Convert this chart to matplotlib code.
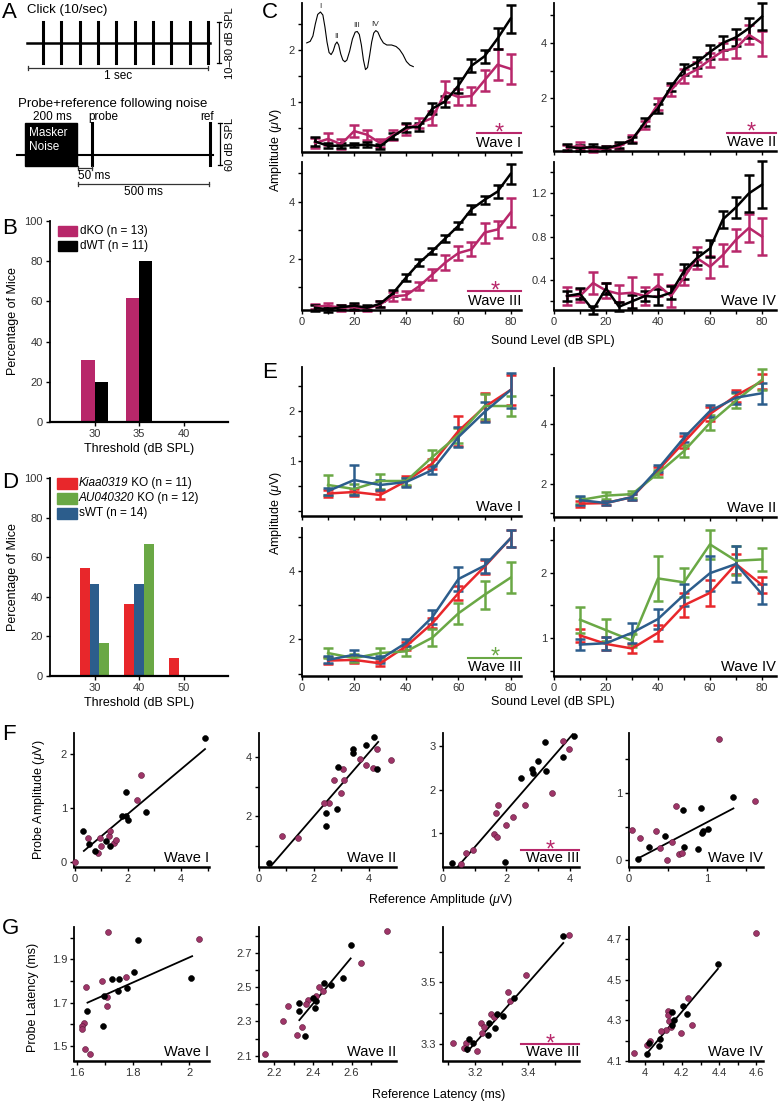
import numpy as np
import matplotlib
matplotlib.use('Agg')
import matplotlib.pyplot as plt
from matplotlib.patches import Rectangle
from matplotlib.transforms import offset_copy

plt.rcParams['font.family'] = ['Liberation Sans', 'DejaVu Sans']
plt.rcParams['mathtext.fontset'] = 'custom'
plt.rcParams['mathtext.rm'] = 'Liberation Sans'
plt.rcParams['mathtext.it'] = 'Liberation Sans:italic'

MAG = '#b8276a'
RED = '#e8272b'
GRN = '#6aa845'
BLU = '#2c5d8c'
DOT = '#9e3568'

# ---------------- data ----------------
# B: threshold distribution (double KO vs WT)
b_thresh = [30, 35, 40]
b_dko = [30.8, 61.5, 0]
b_dwt = [20, 80, 0]

# D: threshold distribution (single KOs vs WT)
d_thresh = [30, 40, 50]
d_kiaa = [54.5, 36.4, 9.1]
d_blue = [46.7, 46.7, 0]
d_au = [16.7, 66.7, 0]

# C: ABR amplitude growth, dKO (magenta) vs dWT (black)
c_lev = [5, 10, 15, 20, 25, 30, 35, 40, 45, 50, 55, 60, 65, 70, 75, 80]
c1_ko = [0.22, 0.3, 0.2, 0.45, 0.38, 0.22, 0.38, 0.48, 0.6, 0.7, 1.2, 1.1, 1.12, 1.42, 1.72, 1.64]
c1_ko_e = [0.1, 0.12, 0.1, 0.12, 0.1, 0.08, 0.1, 0.1, 0.1, 0.13, 0.2, 0.15, 0.17, 0.2, 0.3, 0.28]
c1_wt = [0.25, 0.17, 0.17, 0.18, 0.19, 0.16, 0.35, 0.52, 0.53, 0.88, 1.02, 1.32, 1.7, 1.88, 2.22, 2.6]
c1_wt_e = [0.08, 0.05, 0.05, 0.04, 0.05, 0.05, 0.06, 0.08, 0.07, 0.1, 0.1, 0.15, 0.12, 0.12, 0.2, 0.27]
c2_ko = [0.2, 0.3, 0.15, 0.2, 0.25, 0.55, 1.05, 1.8, 2.3, 2.8, 3.05, 3.4, 3.72, 3.81, 4.3, 4.0]
c2_ko_e = [0.1, 0.12, 0.1, 0.08, 0.1, 0.12, 0.15, 0.2, 0.2, 0.25, 0.25, 0.25, 0.3, 0.35, 0.35, 0.45]
c2_wt = [0.25, 0.2, 0.25, 0.2, 0.32, 0.5, 1.15, 1.64, 2.42, 3.05, 3.3, 3.68, 4.01, 4.21, 4.54, 4.96]
c2_wt_e = [0.12, 0.1, 0.12, 0.08, 0.12, 0.12, 0.15, 0.15, 0.15, 0.2, 0.2, 0.25, 0.25, 0.3, 0.35, 0.5]
c3_ko = [0.32, 0.35, 0.28, 0.3, 0.25, 0.4, 0.68, 0.72, 1.04, 1.45, 1.87, 2.2, 2.33, 2.92, 3.03, 3.62]
c3_ko_e = [0.1, 0.1, 0.1, 0.1, 0.1, 0.1, 0.15, 0.15, 0.15, 0.2, 0.25, 0.25, 0.25, 0.35, 0.3, 0.5]
c3_wt = [0.28, 0.22, 0.3, 0.35, 0.28, 0.42, 0.8, 1.35, 1.86, 2.27, 2.72, 3.16, 3.74, 4.07, 4.36, 4.98]
c3_wt_e = [0.1, 0.08, 0.08, 0.1, 0.08, 0.1, 0.12, 0.12, 0.12, 0.12, 0.12, 0.12, 0.15, 0.15, 0.22, 0.35]
c4_ko = [0.25, 0.25, 0.37, 0.3, 0.27, 0.28, 0.25, 0.35, 0.25, 0.42, 0.6, 0.52, 0.63, 0.77, 0.88, 0.8]
c4_ko_e = [0.08, 0.06, 0.1, 0.07, 0.08, 0.15, 0.08, 0.1, 0.1, 0.07, 0.1, 0.1, 0.1, 0.1, 0.13, 0.17]
c4_wt = [0.25, 0.27, 0.12, 0.32, 0.15, 0.2, 0.25, 0.24, 0.28, 0.48, 0.6, 0.69, 0.96, 1.07, 1.2, 1.28]
c4_wt_e = [0.05, 0.05, 0.04, 0.05, 0.04, 0.06, 0.05, 0.07, 0.06, 0.07, 0.06, 0.08, 0.08, 0.1, 0.17, 0.22]

# E: ABR amplitude growth, Kiaa0319 KO (red), AU040320 KO (green), sWT (blue)
e_lev = [10, 20, 30, 40, 50, 60, 70, 80]
e1_r = [0.35, 0.38, 0.32, 0.6, 0.95, 1.6, 2.08, 2.42]
e1_r_e = [0.07, 0.07, 0.08, 0.1, 0.1, 0.3, 0.28, 0.3]
e1_g = [0.52, 0.44, 0.6, 0.6, 1.08, 1.52, 2.1, 2.1]
e1_g_e = [0.2, 0.1, 0.15, 0.07, 0.15, 0.15, 0.25, 0.2]
e1_b = [0.4, 0.62, 0.52, 0.58, 0.82, 1.48, 1.98, 2.42]
e1_b_e = [0.07, 0.3, 0.1, 0.09, 0.08, 0.2, 0.2, 0.35]
e2_r = [1.33, 1.35, 1.55, 2.45, 3.4, 4.35, 4.97, 5.45]
e2_r_e = [0.1, 0.08, 0.1, 0.12, 0.2, 0.25, 0.2, 0.25]
e2_g = [1.45, 1.6, 1.65, 2.35, 3.1, 4.05, 4.8, 5.5]
e2_g_e = [0.12, 0.12, 0.12, 0.12, 0.2, 0.25, 0.25, 0.35]
e2_b = [1.45, 1.35, 1.55, 2.5, 3.55, 4.45, 4.9, 5.05]
e2_b_e = [0.15, 0.08, 0.1, 0.12, 0.15, 0.2, 0.2, 0.35]
e3_r = [1.38, 1.4, 1.3, 1.8, 2.47, 3.35, 4.12, 4.95]
e3_r_e = [0.1, 0.1, 0.08, 0.12, 0.15, 0.2, 0.2, 0.25]
e3_g = [1.6, 1.45, 1.6, 1.65, 2.05, 2.76, 3.3, 3.8]
e3_g_e = [0.15, 0.12, 0.15, 0.15, 0.25, 0.3, 0.4, 0.45]
e3_b = [1.4, 1.55, 1.42, 1.9, 2.65, 3.76, 4.15, 4.95]
e3_b_e = [0.1, 0.15, 0.1, 0.1, 0.2, 0.35, 0.2, 0.25]
e4_r = [1.04, 0.91, 0.84, 1.08, 1.5, 1.69, 2.13, 1.81]
e4_r_e = [0.1, 0.1, 0.07, 0.12, 0.18, 0.2, 0.15, 0.12]
e4_g = [1.28, 1.12, 0.96, 1.91, 1.85, 2.43, 2.18, 2.2]
e4_g_e = [0.2, 0.17, 0.1, 0.35, 0.22, 0.22, 0.22, 0.17]
e4_b = [0.9, 0.92, 1.08, 1.29, 1.66, 1.99, 2.13, 1.67]
e4_b_e = [0.08, 0.1, 0.15, 0.15, 0.17, 0.27, 0.28, 0.15]

# F: probe vs reference amplitude (uV); black = WT, magenta = KO
f1_wt_x = [0.3, 0.55, 0.75, 1.2, 1.35, 1.8, 1.95, 2.0, 1.95, 2.7, 4.9]
f1_wt_y = [0.58, 0.33, 0.2, 0.38, 0.3, 0.85, 0.86, 0.77, 1.3, 0.93, 2.3]
f1_ko_x = [0.0, 0.5, 0.9, 0.95, 1.0, 1.3, 1.35, 1.5, 1.55, 2.35, 2.5]
f1_ko_y = [0.0, 0.45, 0.17, 0.45, 0.3, 0.48, 0.58, 0.34, 0.4, 1.15, 1.62]
f1_fit = [[0.35, 4.9], [0.2, 2.1]]
f2_wt_x = [4.2, 3.42, 3.42, 3.89, 2.89, 4.32, 2.43, 2.43, 2.86, 0.35]
f2_wt_y = [4.68, 4.27, 4.14, 4.41, 3.65, 3.58, 2.1, 1.67, 2.24, 0.45]
f2_ko_x = [3.05, 2.72, 3.09, 3.01, 3.67, 3.89, 4.16, 4.32, 4.81, 2.56, 2.37, 0.83, 1.44]
f2_ko_y = [3.6, 3.21, 3.21, 2.77, 3.92, 3.71, 3.64, 4.25, 3.89, 2.44, 2.44, 1.33, 1.27]
f2_fit = [[0.45, 4.35], [0.35, 4.5]]
f3_wt_x = [4.14, 3.24, 3.0, 2.82, 2.86, 3.26, 2.48, 3.79, 0.28, 1.95]
f3_wt_y = [3.22, 3.1, 2.65, 2.48, 2.38, 2.42, 2.27, 2.75, 0.32, 0.34]
f3_ko_x = [3.79, 3.98, 3.44, 2.59, 1.75, 1.66, 2.21, 2.0, 1.6, 1.71, 0.95, 0.72, 0.56]
f3_ko_y = [3.12, 2.94, 1.92, 1.65, 1.64, 1.45, 1.36, 1.18, 0.98, 0.91, 0.62, 0.55, 0.3]
f3_fit = [[0.47, 4.1], [0.23, 3.27]]
f4_wt_x = [1.33, 0.92, 0.69, 1.02, 0.94, 0.95, 0.46, 0.26, 0.7, 0.89, 0.11]
f4_wt_y = [0.94, 0.77, 0.74, 0.46, 0.41, 0.43, 0.36, 0.2, 0.19, 0.17, 0.02]
f4_ko_x = [1.16, 1.62, 0.6, 0.04, 0.14, 0.35, 0.55, 0.4, 0.49, 0.64, 0.68]
f4_ko_y = [1.8, 0.88, 0.8, 0.45, 0.33, 0.44, 0.27, 0.18, 0.0, 0.1, 0.11]
f4_fit = [[0.12, 1.34], [0.03, 0.77]]

# G: probe vs reference latency (ms)
g1_wt_x = [1.816, 1.803, 1.75, 1.724, 1.745, 1.78, 1.698, 1.638, 1.692, 2.005]
g1_wt_y = [1.988, 1.843, 1.81, 1.81, 1.756, 1.767, 1.73, 1.663, 1.59, 1.815]
g1_ko_x = [1.712, 2.034, 1.689, 1.775, 1.633, 1.706, 1.709, 1.624, 1.62, 1.618, 1.63, 1.647]
g1_ko_y = [2.026, 1.996, 1.8, 1.82, 1.771, 1.725, 1.684, 1.607, 1.593, 1.58, 1.484, 1.461]
g1_fit = [[1.638, 2.01], [1.7, 1.915]]
g2_wt_x = [2.595, 2.553, 2.491, 2.459, 2.398, 2.416, 2.41, 2.328, 2.328, 2.36]
g2_wt_y = [2.744, 2.552, 2.513, 2.523, 2.437, 2.417, 2.379, 2.408, 2.363, 2.215]
g2_ko_x = [2.781, 2.648, 2.433, 2.45, 2.376, 2.364, 2.272, 2.243, 2.341, 2.316, 2.152, 2.416]
g2_ko_y = [2.825, 2.642, 2.5, 2.475, 2.423, 2.404, 2.392, 2.3, 2.267, 2.223, 2.11, 2.446]
g2_fit = [[2.329, 2.595], [2.308, 2.667]]
g3_wt_x = [3.531, 3.348, 3.306, 3.281, 3.254, 3.276, 3.25, 3.179, 3.194, 3.169]
g3_wt_y = [3.652, 3.448, 3.39, 3.395, 3.368, 3.349, 3.327, 3.314, 3.303, 3.281]
g3_ko_x = [3.554, 3.391, 3.323, 3.331, 3.26, 3.271, 3.221, 3.235, 3.228, 3.166, 3.116, 3.159, 3.209]
g3_ko_y = [3.655, 3.524, 3.467, 3.44, 3.396, 3.385, 3.366, 3.355, 3.335, 3.302, 3.302, 3.284, 3.275]
g3_fit = [[3.171, 3.531], [3.273, 3.628]]
g4_wt_x = [4.393, 4.205, 4.227, 4.148, 4.155, 4.148, 4.08, 4.077, 4.023, 4.014]
g4_wt_y = [4.579, 4.369, 4.333, 4.341, 4.303, 4.279, 4.21, 4.174, 4.189, 4.133]
g4_ko_x = [4.598, 4.232, 4.127, 4.127, 4.13, 4.143, 4.112, 4.089, 4.196, 4.255, 4.03, 4.014, 3.941]
g4_ko_y = [4.731, 4.408, 4.348, 4.328, 4.295, 4.267, 4.254, 4.248, 4.238, 4.275, 4.197, 4.177, 4.141]
g4_fit = [[4.018, 4.393], [4.144, 4.554]]

# inset ABR waveform sketch (arbitrary units)
wave_x = [145, 155, 163, 170, 177, 185, 192, 198, 204, 210, 216, 222, 228, 233, 238, 244, 250, 256,
          262, 270, 278, 286, 292, 298, 304, 310, 316, 322, 328, 334, 340, 346, 352, 360, 368, 378,
          392, 405, 415, 425, 435, 445, 455]
wave_y = [133, 128, 110, 70, 38, 30, 40, 80, 130, 165, 172, 160, 138, 130, 140, 170, 190, 196,
          190, 160, 120, 97, 95, 105, 140, 190, 222, 215, 175, 130, 100, 92, 97, 118, 133, 140,
          140, 145, 155, 172, 195, 207, 212]

n_clicks = 10

# ---------------- layout helpers ----------------
W, H = 778, 1103
fig = plt.figure(figsize=(W / 100, H / 100), dpi=100)


def box(l, t, r, b):
    return [l / W, 1 - b / H, (r - l) / W, (b - t) / H]


TICKFS = 8
LABFS = 9
WAVEFS = 10.5


def style(ax, xt, xtl, yt, ytl, xminor=(), yminor=()):
    for s in ['top', 'right']:
        ax.spines[s].set_visible(False)
    ax.spines['bottom'].set_linewidth(1.8)
    ax.spines['left'].set_linewidth(1.3)
    ax.set_xticks(xt)
    ax.set_xticklabels(xtl)
    ax.set_yticks(yt)
    ax.set_yticklabels(ytl)
    ax.set_xticks(list(xminor), minor=True)
    ax.set_yticks(list(yminor), minor=True)
    ax.tick_params(which='both', direction='out', length=3, width=1,
                   labelsize=TICKFS, labelcolor='#333333', pad=2)


def wave_label(ax, txt, star=None, x0=0.78):
    ax.text(1.0, 0.015, txt, transform=ax.transAxes, ha='right', va='bottom', fontsize=WAVEFS)
    if star:
        ax.plot([x0, 1.0], [0.125, 0.125], transform=ax.transAxes, color=star, lw=1.5, clip_on=False)
        tr = offset_copy(ax.transAxes, fig=fig, x=0, y=-4.5, units='points')
        ax.text((x0 + 1) / 2, 0.125, '*', transform=tr, ha='center', va='baseline',
                fontsize=17, color=star)


# ---------------- panel B ----------------
axB = fig.add_axes(box(50, 221, 228, 422))
bx = np.array(b_thresh)
axB.bar(bx - 0.75, b_dko, width=1.5, color=MAG)
axB.bar(bx + 0.75, b_dwt, width=1.5, color='k')
axB.set_xlim(25, 45)
axB.set_ylim(0, 100)
style(axB, b_thresh, [str(t) for t in b_thresh], [0, 20, 40, 60, 80, 100],
      ['0', '20', '40', '60', '80', '100'])
axB.spines['bottom'].set_linewidth(1.6)
axB.set_xlabel('Threshold (dB SPL)', fontsize=LABFS, labelpad=3)
axB.set_ylabel('Percentage of Mice', fontsize=LABFS, labelpad=4)

# ---------------- panel D ----------------
axD = fig.add_axes(box(50, 478, 228, 676))
dx = np.array(d_thresh)
axD.bar(dx - 2.2, d_kiaa, width=2.2, color=RED)
axD.bar(dx, d_blue, width=2.2, color=BLU)
axD.bar(dx + 2.2, d_au, width=2.2, color=GRN)
axD.set_xlim(20, 60)
axD.set_ylim(0, 100)
style(axD, d_thresh, [str(t) for t in d_thresh], [0, 20, 40, 60, 80, 100],
      ['0', '20', '40', '60', '80', '100'])
axD.spines['bottom'].set_linewidth(1.6)
axD.set_xlabel('Threshold (dB SPL)', fontsize=LABFS, labelpad=3)
axD.set_ylabel('Percentage of Mice', fontsize=LABFS, labelpad=4)

# ---------------- panel C ----------------
lev_ticks = list(range(0, 90, 10))
lev_lab = ['0', '', '20', '', '40', '', '60', '', '80']


def curves(ax, x, series, cap=3.3):
    for y, e, col in series:
        ax.errorbar(x, y, yerr=e, color=col, lw=1.8, elinewidth=1.8, capsize=cap,
                    capthick=1.8, clip_on=False)


cpos = [(302, 3, 521, 152), (554, 3, 776, 151), (302, 162, 521, 310), (554, 162, 776, 310)]
cdata = [[(c1_ko, c1_ko_e, MAG), (c1_wt, c1_wt_e, 'k')],
         [(c2_ko, c2_ko_e, MAG), (c2_wt, c2_wt_e, 'k')],
         [(c3_ko, c3_ko_e, MAG), (c3_wt, c3_wt_e, 'k')],
         [(c4_ko, c4_ko_e, MAG), (c4_wt, c4_wt_e, 'k')]]
cylim = [(0.05, 2.9), (0.1, 5.45), (0.2, 5.4), (0.12, 1.49)]
cyt = [([1, 2], ['1', '2'], [0.5, 1.5, 2.5]), ([2, 4], ['2', '4'], [1, 3, 5]),
       ([2, 4], ['2', '4'], [1, 3, 5]), ([0.4, 0.8, 1.2], ['0.4', '0.8', '1.2'], [0.2, 0.6, 1.0, 1.4])]
cwave = ['Wave I', 'Wave II', 'Wave III', 'Wave IV']
cstar = [MAG, MAG, MAG, None]
cstar_x0 = [0.8, 0.78, 0.76, 0.78]
for i in range(4):
    ax = fig.add_axes(box(*cpos[i]))
    curves(ax, c_lev, cdata[i])
    ax.set_xlim(0, 84 if i % 2 == 0 else 85.4)
    ax.set_ylim(*cylim[i])
    style(ax, lev_ticks, lev_lab if i >= 2 else [''] * 9, cyt[i][0], cyt[i][1], yminor=cyt[i][2])
    wave_label(ax, cwave[i], cstar[i], cstar_x0[i])

ins = fig.add_axes(box(305, 0, 415, 75))
ins.plot(wave_x, wave_y, color='k', lw=0.8)
ins.set_xlim(140, 460)
ins.set_ylim(240, -10)
ins.axis('off')
for t, x, y in [('I', 185, 10), ('II', 233, 112), ('III', 290, 76), ('IV', 345, 72)]:
    ins.text(x, y, t, fontsize=6, ha='center', va='center', color='#333333')

# ---------------- panel E ----------------
epos = [(302, 367, 521, 516), (554, 368, 776, 517), (302, 528, 521, 676), (554, 528, 776, 676)]
edata = [[(e1_r, e1_r_e, RED), (e1_g, e1_g_e, GRN), (e1_b, e1_b_e, BLU)],
         [(e2_r, e2_r_e, RED), (e2_g, e2_g_e, GRN), (e2_b, e2_b_e, BLU)],
         [(e3_r, e3_r_e, RED), (e3_g, e3_g_e, GRN), (e3_b, e3_b_e, BLU)],
         [(e4_r, e4_r_e, RED), (e4_g, e4_g_e, GRN), (e4_b, e4_b_e, BLU)]]
eylim = [(-0.1, 2.88), (0.88, 5.9), (0.93, 5.25), (0.42, 2.68)]
eyt = [([1, 2], ['1', '2'], [0, 0.5, 1.5, 2.5]), ([2, 4], ['2', '4'], [1, 3, 5]),
       ([2, 4], ['2', '4'], [1, 3, 5]), ([1, 2], ['1', '2'], [0.5, 1.5, 2.5])]
estar = [None, None, GRN, None]
for i in range(4):
    ax = fig.add_axes(box(*epos[i]))
    curves(ax, e_lev, edata[i])
    ax.set_xlim(0, 84 if i % 2 == 0 else 85.4)
    ax.set_ylim(*eylim[i])
    style(ax, lev_ticks, lev_lab if i >= 2 else [''] * 9, eyt[i][0], eyt[i][1], yminor=eyt[i][2])
    wave_label(ax, cwave[i], estar[i], 0.76)

# ---------------- panels F and G ----------------
cols_lr = [(74, 209), (259, 396), (443, 579), (629, 763)]


def scat(ax, wx, wy, kx, ky, fit):
    ax.plot(fit[0], fit[1], color='k', lw=1.3, zorder=2)
    ax.scatter(kx, ky, s=18, facecolor=DOT, edgecolor='#5a1838', linewidth=0.4, zorder=3, clip_on=False)
    ax.scatter(wx, wy, s=18, facecolor='k', edgecolor='k', linewidth=0.4, zorder=4, clip_on=False)


fsets = [(f1_wt_x, f1_wt_y, f1_ko_x, f1_ko_y, f1_fit),
         (f2_wt_x, f2_wt_y, f2_ko_x, f2_ko_y, f2_fit),
         (f3_wt_x, f3_wt_y, f3_ko_x, f3_ko_y, f3_fit),
         (f4_wt_x, f4_wt_y, f4_ko_x, f4_ko_y, f4_fit)]
fxlim = [(-0.02, 5.05), (0, 5.0), (0, 4.3), (0, 1.72)]
fylim = [(-0.1, 2.4), (0.3, 4.8), (0.22, 3.3), (-0.1, 1.89)]
fxt = [([0, 2, 4], ['0', '2', '4'], [1, 3, 5]), ([0, 2, 4], ['0', '2', '4'], [1, 3]),
       ([0, 2, 4], ['0', '2', '4'], [1, 3]), ([0, 1], ['0', '1'], [0.5, 1.5])]
fyt = [([0, 1, 2], ['0', '1', '2'], []), ([2, 4], ['2', '4'], [1, 3]),
       ([1, 2, 3], ['1', '2', '3'], []), ([0, 1], ['0', '1'], [0.5, 1.5])]
fstar = [None, None, MAG, None]
for i in range(4):
    l, r = cols_lr[i]
    ax = fig.add_axes(box(l, 733, r, 867))
    scat(ax, *fsets[i])
    ax.set_xlim(*fxlim[i])
    ax.set_ylim(*fylim[i])
    style(ax, fxt[i][0], fxt[i][1], fyt[i][0], fyt[i][1], fxt[i][2], fyt[i][2])
    wave_label(ax, cwave[i], fstar[i], 0.57)

gsets = [(g1_wt_x, g1_wt_y, g1_ko_x, g1_ko_y, g1_fit),
         (g2_wt_x, g2_wt_y, g2_ko_x, g2_ko_y, g2_fit),
         (g3_wt_x, g3_wt_y, g3_ko_x, g3_ko_y, g3_fit),
         (g4_wt_x, g4_wt_y, g4_ko_x, g4_ko_y, g4_fit)]
gxlim = [(1.59, 2.07), (2.12, 2.83), (3.08, 3.59), (3.916, 4.635)]
gylim = [(1.43, 2.05), (2.07, 2.85), (3.243, 3.68), (4.1, 4.76)]
gxt = [([1.6, 1.8, 2.0], ['1.6', '1.8', '2'], [1.7, 1.9]),
       ([2.2, 2.4, 2.6], ['2.2', '2.4', '2.6'], [2.3, 2.5, 2.7]),
       ([3.2, 3.4], ['3.2', '3.4'], [3.1, 3.3, 3.5]),
       ([4.0, 4.2, 4.4, 4.6], ['4', '4.2', '4.4', '4.6'], [4.1, 4.3, 4.5])]
gyt = [([1.5, 1.7, 1.9], ['1.5', '1.7', '1.9'], [1.6, 1.8, 2.0]),
       ([2.1, 2.3, 2.5, 2.7], ['2.1', '2.3', '2.5', '2.7'], [2.2, 2.4, 2.6, 2.8]),
       ([3.3, 3.5], ['3.3', '3.5'], [3.4, 3.6]),
       ([4.1, 4.3, 4.5, 4.7], ['4.1', '4.3', '4.5', '4.7'], [4.2, 4.4, 4.6])]
for i in range(4):
    l, r = cols_lr[i]
    ax = fig.add_axes(box(l, 927, r, 1061))
    scat(ax, *gsets[i])
    ax.set_xlim(*gxlim[i])
    ax.set_ylim(*gylim[i])
    style(ax, gxt[i][0], gxt[i][1], gyt[i][0], gyt[i][1], gxt[i][2], gyt[i][2])
    wave_label(ax, cwave[i], fstar[i], 0.57)

# ---------------- overlay: panel A, legends, shared labels ----------------
ov = fig.add_axes([0, 0, 1, 1])
ov.set_xlim(0, W)
ov.set_ylim(H, 0)
ov.axis('off')
ov.patch.set_facecolor('none')
ov.set_zorder(10)

for lab, x, y in [('A', 2, 13), ('B', 2, 228), ('C', 262, 13), ('D', 2, 482),
                  ('E', 262, 372), ('F', 2, 735), ('G', 2, 928)]:
    ov.text(x, y, lab, fontsize=16, ha='left', va='center')

# panel A (stimulus schematic)
ov.text(27, 10, 'Click (10/sec)', fontsize=9.5, va='center')
ov.plot([27, 210], [43, 43], color='k', lw=1.8)
for cx in np.linspace(43, 208, n_clicks):
    ov.plot([cx, cx], [22, 63], color='k', lw=2.2)
ov.plot([28, 208], [68, 68], color='#333333', lw=0.9)
ov.plot([28, 28], [66, 70], color='#333333', lw=0.9)
ov.plot([208, 208], [66, 70], color='#333333', lw=0.9)
ov.text(118, 76, '1 sec', fontsize=8.5, ha='center', va='center')
ov.plot([219, 219], [22, 63], color='k', lw=0.9)
ov.plot([217, 221], [22, 22], color='k', lw=0.9)
ov.plot([217, 221], [63, 63], color='k', lw=0.9)
ov.text(230, 43, '10–80 dB SPL', fontsize=8, rotation=90, ha='center', va='center')

ov.text(18, 104, 'Probe+reference following noise', fontsize=9.5, va='center')
ov.text(52, 117, '200 ms', fontsize=8.5, ha='center', va='center')
ov.text(103, 117, 'probe', fontsize=8.5, ha='center', va='center')
ov.text(207, 117, 'ref', fontsize=8.5, ha='center', va='center')
ov.plot([17, 213], [155, 155], color='k', lw=1.5)
ov.add_patch(Rectangle((25, 123), 52, 43, color='k'))
ov.text(29, 133, 'Masker', fontsize=8.5, color='w', va='center')
ov.text(29, 147, 'Noise', fontsize=8.5, color='w', va='center')
ov.plot([92, 92], [123, 165], color='k', lw=2.2)
ov.plot([210, 210], [123, 165], color='k', lw=2.2)
ov.plot([220, 220], [123, 165], color='k', lw=0.9)
ov.plot([218, 222], [123, 123], color='k', lw=0.9)
ov.plot([218, 222], [165, 165], color='k', lw=0.9)
ov.text(230, 144, '60 dB SPL', fontsize=8, rotation=90, ha='center', va='center')
ov.plot([78, 92], [168, 168], color='#333333', lw=0.9)
ov.plot([78, 78], [166, 170], color='#333333', lw=0.9)
ov.plot([92, 92], [166, 170], color='#333333', lw=0.9)
ov.text(78, 176, '50 ms', fontsize=8.5, va='center')
ov.plot([78, 209], [184, 184], color='#333333', lw=0.9)
ov.plot([78, 78], [182, 186], color='#333333', lw=0.9)
ov.plot([209, 209], [182, 186], color='#333333', lw=0.9)
ov.text(143, 192, '500 ms', fontsize=8.5, ha='center', va='center')

# legends for B and D
for lab, col, y in [('dKO (n = 13)', MAG, 231), ('dWT (n = 11)', 'k', 246)]:
    ov.add_patch(Rectangle((58, y - 5), 19, 10, color=col))
    ov.text(80, y, lab, fontsize=8.5, va='center')
for gene, rest, col, y in [('Kiaa0319', ' KO (n = 11)', RED, 483),
                           ('AU040320', ' KO (n = 12)', GRN, 498),
                           ('', 'sWT (n = 14)', BLU, 513)]:
    ov.add_patch(Rectangle((57, y - 5.5), 20, 11, color=col))
    if gene:
        t1 = ov.text(79, y, gene, fontsize=8.5, va='center', fontstyle='italic')
        ov.annotate(rest, xy=(1, 0), xycoords=t1, ha='left', va='bottom', fontsize=8.5)
    else:
        ov.text(79, y, rest, fontsize=8.5, va='center')

# shared axis labels
ov.text(276, 150, r'Amplitude ($\mu$V)', fontsize=LABFS, rotation=90, ha='center', va='center')
ov.text(553, 341, 'Sound Level (dB SPL)', fontsize=LABFS, ha='center', va='center')
ov.text(276, 513, r'Amplitude ($\mu$V)', fontsize=LABFS, rotation=90, ha='center', va='center')
ov.text(553, 702, 'Sound Level (dB SPL)', fontsize=LABFS, ha='center', va='center')
ov.text(39, 800, r'Probe Amplitude ($\mu$V)', fontsize=LABFS, rotation=90, ha='center', va='center')
ov.text(440, 900, r'Reference Amplitude ($\mu$V)', fontsize=LABFS, ha='center', va='center')
ov.text(33, 997, 'Probe Latency (ms)', fontsize=LABFS, rotation=90, ha='center', va='center')
ov.text(439, 1095, 'Reference Latency (ms)', fontsize=LABFS, ha='center', va='center')

fig.savefig('out.png', dpi=100)
